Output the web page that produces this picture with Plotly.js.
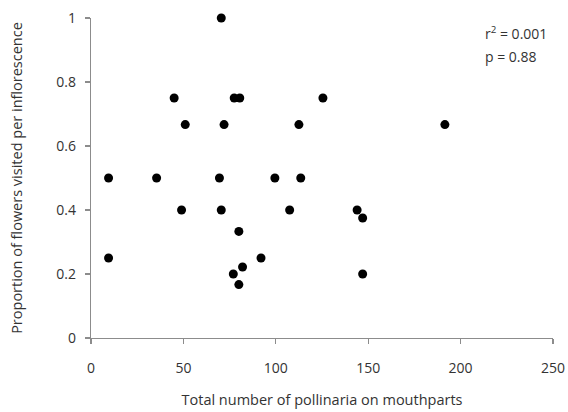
<!DOCTYPE html>
<html>
<head>
<meta charset="utf-8">
<script src="https://cdn.plot.ly/plotly-3.0.1.min.js"></script>
<style>html,body{margin:0;padding:0;background:#fff;}#chart{width:568px;height:412px;}</style>
</head>
<body>
<div id="chart"></div>
<script>
const pollinaria = [70.5, 45, 77.5, 80.5, 125.5, 51, 72, 112.5, 191.5, 9.5, 35.5, 69.5, 99.5, 113.5, 49, 70.5, 107.5, 144, 147, 80, 9.5, 92, 82, 77, 147, 80];
const proportionVisited = [1.0, 0.75, 0.75, 0.75, 0.75, 0.667, 0.667, 0.667, 0.667, 0.5, 0.5, 0.5, 0.5, 0.5, 0.4, 0.4, 0.4, 0.4, 0.375, 0.333, 0.25, 0.25, 0.222, 0.2, 0.2, 0.167];
const xTicks = [0, 50, 100, 150, 200, 250];
const yTicks = [0, 0.2, 0.4, 0.6, 0.8, 1];
const yTickLabels = ['0', '0.2', '0.4', '0.6', '0.8', '1'];
const statsLines = ['r<sup>2</sup> = 0.001', 'p = 0.88'];

const font = 'Open Sans, Noto Sans, sans-serif';
const trace = {
  x: pollinaria, y: proportionVisited, type: 'scatter', mode: 'markers',
  marker: {color: '#000', size: 9},
  cliponaxis: false, hoverinfo: 'none'
};
const axisCommon = {
  showgrid: false, zeroline: false, showline: true, linecolor: '#8c8c8c', linewidth: 1.3,
  ticks: 'outside', ticklen: 5, tickwidth: 1.3, tickcolor: '#8c8c8c',
  tickfont: {family: font, size: 14, color: '#333'}
};
const layout = {
  width: 568, height: 412,
  margin: {l: 91, r: 15, t: 18, b: 74},
  paper_bgcolor: '#fff', plot_bgcolor: '#fff',
  showlegend: false,
  xaxis: Object.assign({}, axisCommon, {
    range: [0, 250], tickvals: xTicks, ticktext: xTicks.map(String),
    ticklabelstandoff: 12,
    title: {text: 'Total number of pollinaria on mouthparts', font: {family: font, size: 14.5, color: '#333'}, standoff: 18}
  }),
  yaxis: Object.assign({}, axisCommon, {
    range: [0, 1], tickvals: yTicks, ticktext: yTickLabels,
    ticklabelstandoff: 6,
    title: {text: 'Proportion of flowers visited per inflorescence', font: {family: font, size: 14.5, color: '#333'}, standoff: 30}
  }),
  annotations: [
    {xref: 'paper', yref: 'paper', x: 0.848, y: 0.953, xanchor: 'left', yanchor: 'middle',
     text: statsLines[0], showarrow: false, align: 'left', font: {family: font, size: 14, color: '#333'}},
    {xref: 'paper', yref: 'paper', x: 0.848, y: 0.881, xanchor: 'left', yanchor: 'middle',
     text: statsLines[1], showarrow: false, align: 'left', font: {family: font, size: 14, color: '#333'}}
  ]
};
Plotly.newPlot('chart', [trace], layout, {staticPlot: true});
</script>
</body>
</html>
